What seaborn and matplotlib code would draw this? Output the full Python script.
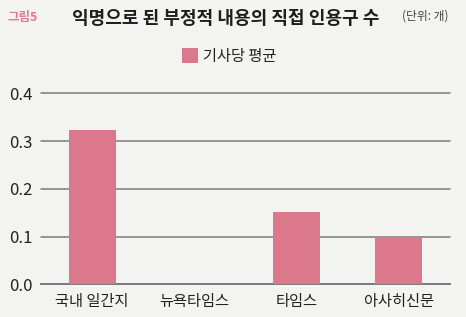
import matplotlib
matplotlib.use("Agg")
import matplotlib.pyplot as plt
from matplotlib.patches import Patch
import seaborn as sns
import pandas as pd

categories = ["국내 일간지", "뉴욕타임스", "타임스", "아사히신문"]
values = [0.323, 0.0, 0.151, 0.099]
yticks = [0.0, 0.1, 0.2, 0.3, 0.4]
series_name = "기사당 평균"
title = "익명으로 된 부정적 내용의 직접 인용구 수"
fig_label = "그림5"
unit = "(단위: 개)"

sns.set_theme(style="white")
plt.rcParams['font.family'] = ['Noto Sans CJK KR', 'DejaVu Sans']

BG = "#f3f3f1"
BAR = "#dc788c"
GRID = "#7a7a7a"

W, H = 466, 317
fig = plt.figure(figsize=(W / 100, H / 100), dpi=100, facecolor=BG)
left, right, top, bottom = 41, 450, 93.3, 284.3
ax = fig.add_axes([left / W, 1 - bottom / H, (right - left) / W, (bottom - top) / H])
ax.set_facecolor(BG)

df = pd.DataFrame({"cat": categories, "val": values})
sns.barplot(data=df, x="cat", y="val", color=BAR, width=0.46, ax=ax,
            saturation=1, zorder=3, linewidth=0, edgecolor="none")

ax.set_xlim(-0.5, len(categories) - 0.5)
ax.set_ylim(0, 0.4)
ax.set_yticks(yticks)
ax.set_yticklabels([f"{v:.1f}" for v in yticks], fontsize=12, color="#222222")
ax.yaxis.grid(True, color=GRID, linewidth=1.1, zorder=0)
ax.set_axisbelow(True)
for g in ax.get_ygridlines():
    g.set_clip_on(False)
ax.tick_params(axis="y", length=0, pad=6)

ax.set_xticks(range(len(categories)))
ax.set_xticklabels(categories, fontsize=11, color="#222222")
ax.set_xticks([i - 0.5 for i in range(len(categories) + 1)], minor=True)
ax.tick_params(axis="x", which="major", length=0, pad=6)
ax.tick_params(axis="x", which="minor", length=6, width=1.1, color=GRID, direction="out")

for s in ["left", "right", "top"]:
    ax.spines[s].set_visible(False)
ax.spines["bottom"].set_color(GRID)
ax.spines["bottom"].set_linewidth(1.3)
ax.set_xlabel("")
ax.set_ylabel("")

fig.text(8 / W, 1 - 17 / H, fig_label, fontsize=9, fontweight="bold", color="#e07a8e",
         ha="left", va="center")
fig.text(226 / W, 1 - 19 / H, title, fontsize=13, fontweight="bold", color="#1e1e1e",
         ha="center", va="center")
fig.text(449 / W, 1 - 16 / H, unit, fontsize=8.5, color="#444444", ha="right", va="center")

handle = Patch(facecolor=BAR, edgecolor="none")
fig.legend([handle], [series_name], loc="center", bbox_to_anchor=(229 / W, 1 - 56 / H),
           frameon=False, fontsize=11, handlelength=1.1, handleheight=1.1,
           handletextpad=0.3, labelcolor="#222222")

fig.savefig("out.png", dpi=100, facecolor=BG)
